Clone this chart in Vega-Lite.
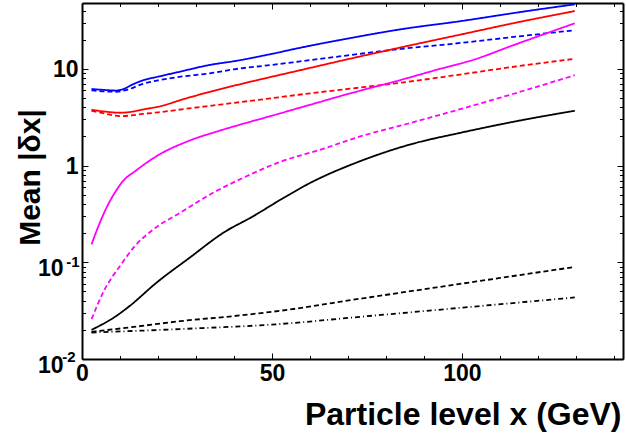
{
  "$schema": "https://vega.github.io/schema/vega-lite/v6.json",
  "autosize": {"type": "none"},
  "width": 541,
  "height": 356,
  "padding": {"left": 82, "top": 3, "right": 3, "bottom": 80},
  "background": "white",
  "config": {
    "view": {"stroke": null},
    "font": "Liberation Sans",
    "axis": {
      "grid": false, "domainColor": "black", "domainWidth": 2, "tickColor": "black", "tickWidth": 1,
      "labelFont": "Liberation Sans", "labelFontWeight": "bold", "labelColor": "black",
      "labelOverlap": false, "labelFlush": false, "labelBound": false, "title": null
    }
  },
  "datasets": {
    "curves": [
      {"s":"bs","x":2.5,"y":6.2},{"s":"bs","x":6,"y":6.05},{"s":"bs","x":9,"y":5.97},{"s":"bs","x":11,"y":6.2},{"s":"bs","x":13,"y":6.8},{"s":"bs","x":16,"y":7.6},{"s":"bs","x":20,"y":8.3},{"s":"bs","x":26,"y":9.4},{"s":"bs","x":33.7,"y":11.0},{"s":"bs","x":40,"y":12.0},{"s":"bs","x":50,"y":14.3},{"s":"bs","x":57,"y":16.4},{"s":"bs","x":70,"y":20.6},{"s":"bs","x":84,"y":25.7},{"s":"bs","x":100,"y":31.3},{"s":"bs","x":115,"y":38.5},{"s":"bs","x":129.7,"y":46.5},
      {"s":"bd","x":2.5,"y":6.0},{"s":"bd","x":6,"y":5.85},{"s":"bd","x":9,"y":5.8},{"s":"bd","x":12,"y":6.1},{"s":"bd","x":16,"y":7.0},{"s":"bd","x":20,"y":7.6},{"s":"bd","x":26,"y":8.3},{"s":"bd","x":33.7,"y":9.0},{"s":"bd","x":40,"y":9.9},{"s":"bd","x":50,"y":11.0},{"s":"bd","x":57,"y":11.9},{"s":"bd","x":70,"y":13.8},{"s":"bd","x":84,"y":16.1},{"s":"bd","x":100,"y":18.6},{"s":"bd","x":115,"y":21.7},{"s":"bd","x":129.7,"y":25.1},
      {"s":"rs","x":2.5,"y":3.78},{"s":"rs","x":6,"y":3.62},{"s":"rs","x":10,"y":3.52},{"s":"rs","x":13,"y":3.6},{"s":"rs","x":16,"y":3.8},{"s":"rs","x":20.5,"y":4.1},{"s":"rs","x":27,"y":4.9},{"s":"rs","x":33.7,"y":5.8},{"s":"rs","x":40,"y":6.7},{"s":"rs","x":50,"y":8.3},{"s":"rs","x":57,"y":9.6},{"s":"rs","x":70,"y":12.6},{"s":"rs","x":84,"y":16.7},{"s":"rs","x":100,"y":22.8},{"s":"rs","x":115,"y":30.5},{"s":"rs","x":129.7,"y":39.6},
      {"s":"rd","x":2.5,"y":3.69},{"s":"rd","x":6,"y":3.45},{"s":"rd","x":10,"y":3.25},{"s":"rd","x":13,"y":3.3},{"s":"rd","x":16,"y":3.42},{"s":"rd","x":20,"y":3.55},{"s":"rd","x":27,"y":3.85},{"s":"rd","x":33.7,"y":4.15},{"s":"rd","x":40,"y":4.45},{"s":"rd","x":50,"y":4.98},{"s":"rd","x":57,"y":5.4},{"s":"rd","x":70,"y":6.2},{"s":"rd","x":84,"y":7.2},{"s":"rd","x":100,"y":8.8},{"s":"rd","x":115,"y":10.7},{"s":"rd","x":129.7,"y":12.7},
      {"s":"ms","x":2.5,"y":0.153},{"s":"ms","x":4.7,"y":0.257},{"s":"ms","x":6.5,"y":0.37},{"s":"ms","x":9.1,"y":0.56},{"s":"ms","x":10.9,"y":0.70},{"s":"ms","x":13.9,"y":0.87},{"s":"ms","x":19.6,"y":1.25},{"s":"ms","x":28.4,"y":1.82},{"s":"ms","x":36.3,"y":2.30},{"s":"ms","x":50,"y":3.28},{"s":"ms","x":60,"y":4.25},{"s":"ms","x":70,"y":5.5},{"s":"ms","x":84,"y":7.7},{"s":"ms","x":95,"y":10.2},{"s":"ms","x":103,"y":12.4},{"s":"ms","x":113.4,"y":17.5},{"s":"ms","x":129.7,"y":29.6},
      {"s":"md","x":2.5,"y":0.0258},{"s":"md","x":6,"y":0.0527},{"s":"md","x":10,"y":0.0916},{"s":"md","x":13.9,"y":0.147},{"s":"md","x":18.8,"y":0.219},{"s":"md","x":25.8,"y":0.325},{"s":"md","x":34.5,"y":0.523},{"s":"md","x":43.3,"y":0.776},{"s":"md","x":52.1,"y":1.09},{"s":"md","x":63,"y":1.47},{"s":"md","x":73.2,"y":2.0},{"s":"md","x":84,"y":2.6},{"s":"md","x":96,"y":3.5},{"s":"md","x":113.4,"y":5.5},{"s":"md","x":129.7,"y":8.6},
      {"s":"ks","x":2.5,"y":0.020},{"s":"ks","x":9.1,"y":0.028},{"s":"ks","x":12.6,"y":0.0355},{"s":"ks","x":19.6,"y":0.0615},{"s":"ks","x":28.4,"y":0.112},{"s":"ks","x":37.2,"y":0.202},{"s":"ks","x":45.1,"y":0.30},{"s":"ks","x":52.1,"y":0.44},{"s":"ks","x":60,"y":0.66},{"s":"ks","x":73.2,"y":1.11},{"s":"ks","x":86.3,"y":1.65},{"s":"ks","x":100,"y":2.2},{"s":"ks","x":115,"y":2.91},{"s":"ks","x":129.7,"y":3.69},
      {"s":"kd","x":2.5,"y":0.0191},{"s":"kd","x":15,"y":0.0218},{"s":"kd","x":25.8,"y":0.0246},{"s":"kd","x":40,"y":0.0278},{"s":"kd","x":52.1,"y":0.0315},{"s":"kd","x":73.2,"y":0.042},{"s":"kd","x":99.5,"y":0.0598},{"s":"kd","x":129.7,"y":0.0895},
      {"s":"kdd","x":2.5,"y":0.0188},{"s":"kdd","x":25.8,"y":0.0204},{"s":"kdd","x":52.1,"y":0.023},{"s":"kdd","x":73.2,"y":0.0273},{"s":"kdd","x":99.5,"y":0.0338},{"s":"kdd","x":129.7,"y":0.0433}
    ]
  },
  "data": {"name": "curves"},
  "resolve": {"axis": {"x": "independent", "y": "independent"}},
  "layer": [
    {
      "mark": {"type": "line", "strokeWidth": 1.8, "interpolate": "monotone"},
      "encoding": {
        "x": {
          "field": "x", "type": "quantitative",
          "scale": {"domain": [0, 142.4], "nice": false, "zero": false},
          "axis": {
            "orient": "bottom", "values": [0, 50, 100], "ticks": false,
            "labelFontSize": 23, "labelPadding": 3,
            "title": "Particle level x (GeV)",
            "titleFont": "Liberation Sans", "titleFontWeight": "bold", "titleFontSize": 32, "titleColor": "black",
            "titleAnchor": null, "titleAlign": "right", "titleBaseline": "alphabetic",
            "titleX": 539, "titleY": 65
          }
        },
        "y": {
          "field": "y", "type": "quantitative",
          "scale": {"type": "log", "domain": [0.01, 48], "nice": false},
          "axis": {
            "orient": "left", "values": [1, 10], "ticks": false,
            "labelExpr": "datum.value == 10 ? '10' : '1'",
            "labelFontSize": 23, "labelPadding": 4, "labelOffset": 1,
            "title": "Mean |δx|",
            "titleFont": "Liberation Sans", "titleFontWeight": "bold", "titleFontSize": 30, "titleColor": "black",
            "titleAnchor": null, "titleAngle": -90, "titleAlign": "center", "titleBaseline": "alphabetic",
            "titleX": -43, "titleY": 174
          }
        },
        "color": {
          "field": "s", "type": "nominal", "legend": null,
          "scale": {"domain": ["bs","bd","rs","rd","ms","md","ks","kd","kdd"],
                    "range": ["#0000ff","#0000ff","#ff0000","#ff0000","#ff00ff","#ff00ff","#000000","#000000","#000000"]}
        },
        "strokeDash": {
          "field": "s", "type": "nominal", "legend": null,
          "scale": {"domain": ["bs","bd","rs","rd","ms","md","ks","kd","kdd"],
                    "range": [[1,0],[5,3],[1,0],[5,3],[1,0],[5,3],[1,0],[5,3],[5,3,1,3]]}
        }
      }
    },
    {
      "mark": {"type": "point", "opacity": 0},
      "encoding": {
        "x": {"field": "x", "type": "quantitative", "scale": {"domain": [0, 142.4], "nice": false, "zero": false},
              "axis": {"orient": "bottom", "values": [0, 50, 100], "labels": false, "domain": false, "tickSize": -6}},
        "y": {"field": "y", "type": "quantitative", "scale": {"type": "log", "domain": [0.01, 48], "nice": false},
              "axis": {"orient": "left", "values": [0.01, 0.1, 1, 10], "labels": false, "domain": false, "tickSize": -6}}
      }
    },
    {
      "mark": {"type": "point", "opacity": 0},
      "encoding": {
        "x": {"field": "x", "type": "quantitative", "scale": {"domain": [0, 142.4], "nice": false, "zero": false},
              "axis": {"orient": "bottom", "values": [10,20,30,40,60,70,80,90,110,120,130,140], "labels": false, "domain": false, "tickSize": -3.5}},
        "y": {"field": "y", "type": "quantitative", "scale": {"type": "log", "domain": [0.01, 48], "nice": false},
              "axis": {"orient": "left", "values": [0.02,0.03,0.04,0.05,0.06,0.07,0.08,0.09,0.2,0.3,0.4,0.5,0.6,0.7,0.8,0.9,2,3,4,5,6,7,8,9,20,30,40], "labels": false, "domain": false, "tickSize": -3.5}}
      }
    },
    {
      "mark": {"type": "point", "opacity": 0},
      "encoding": {
        "x": {"field": "x", "type": "quantitative", "scale": {"domain": [0, 142.4], "nice": false, "zero": false},
              "axis": {"orient": "top", "values": [0, 50, 100], "labels": false, "tickSize": -6}},
        "y": {"field": "y", "type": "quantitative", "scale": {"type": "log", "domain": [0.01, 48], "nice": false},
              "axis": {"orient": "right", "values": [0.01, 0.1, 1, 10], "labels": false, "tickSize": -6}}
      }
    },
    {
      "mark": {"type": "point", "opacity": 0},
      "encoding": {
        "x": {"field": "x", "type": "quantitative", "scale": {"domain": [0, 142.4], "nice": false, "zero": false},
              "axis": {"orient": "top", "values": [10,20,30,40,60,70,80,90,110,120,130,140], "labels": false, "domain": false, "tickSize": -3.5}},
        "y": {"field": "y", "type": "quantitative", "scale": {"type": "log", "domain": [0.01, 48], "nice": false},
              "axis": {"orient": "right", "values": [0.02,0.03,0.04,0.05,0.06,0.07,0.08,0.09,0.2,0.3,0.4,0.5,0.6,0.7,0.8,0.9,2,3,4,5,6,7,8,9,20,30,40], "labels": false, "domain": false, "tickSize": -3.5}}
      }
    },
    {
      "mark": {"type": "point", "opacity": 0},
      "encoding": {
        "y": {"field": "y", "type": "quantitative", "scale": {"type": "log", "domain": [0.01, 48], "nice": false},
              "axis": {"orient": "left", "values": [0.01, 0.1], "labelExpr": "'10'", "ticks": false, "domain": false,
                       "labelFontSize": 23, "labelPadding": 19, "labelOffset": 6}}
      }
    },
    {
      "mark": {"type": "point", "opacity": 0},
      "encoding": {
        "y": {"field": "y", "type": "quantitative", "scale": {"type": "log", "domain": [0.01, 48], "nice": false},
              "axis": {"orient": "left", "values": [0.1], "labelExpr": "'-1'", "ticks": false, "domain": false,
                       "labelFontSize": 15, "labelPadding": 3, "labelOffset": -1}}
      }
    },
    {
      "mark": {"type": "point", "opacity": 0},
      "encoding": {
        "y": {"field": "y", "type": "quantitative", "scale": {"type": "log", "domain": [0.01, 48], "nice": false},
              "axis": {"orient": "left", "values": [0.01], "labelExpr": "'-2'", "ticks": false, "domain": false,
                       "labelFontSize": 15, "labelPadding": 7, "labelOffset": -3}}
      }
    }
  ]
}
